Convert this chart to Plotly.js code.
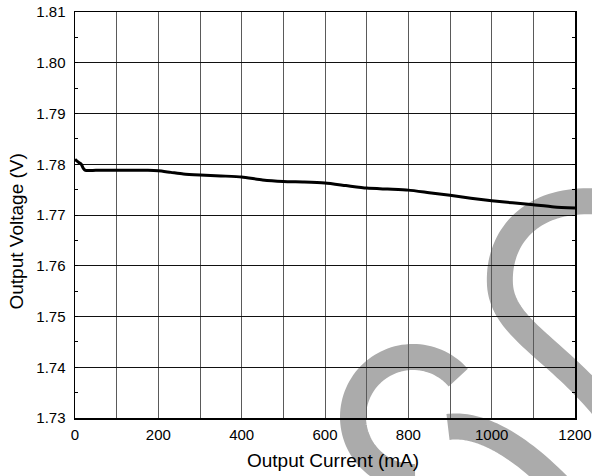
<!DOCTYPE html>
<html>
<head>
<meta charset="utf-8">
<script src="https://cdn.plot.ly/plotly-3.0.1.min.js"></script>
<style>
  html, body { margin: 0; padding: 0; background: #ffffff; }
  #chart { width: 592px; height: 476px; }
</style>
</head>
<body>
<div id="chart"></div>
<script>
// Load regulation: output voltage versus output current
const currentMA = [0, 5, 10, 15, 20, 25, 50, 100, 150, 175, 200, 230, 260, 300, 350, 400,
                   450, 500, 550, 600, 650, 700, 750, 800, 850, 900, 950, 1000, 1050, 1100, 1150, 1200];
const voltageV = [1.7810, 1.7806, 1.7803, 1.7800, 1.7792, 1.7788, 1.7788, 1.7788, 1.7788, 1.7788,
                  1.7787, 1.7784, 1.7781, 1.7779, 1.7777, 1.7775, 1.7769, 1.7766, 1.7765, 1.7763,
                  1.7758, 1.7753, 1.7751, 1.7749, 1.7744, 1.7739, 1.7733, 1.7728, 1.7724, 1.7720,
                  1.7716, 1.7714];
const xTickVals = [0, 200, 400, 600, 800, 1000, 1200];
const xTickText = ['0', '200', '400', '600', '800', '1000', '1200'];

const W = 592, H = 476;
const M = { l: 75, r: 17, t: 12, b: 58 };
const PW = W - M.l - M.r, PH = H - M.t - M.b;
const FONT = 'Liberation Sans, Arial, sans-serif';

// pixel -> paper helpers for the decorative grey strokes
const toPX = x => (x - M.l) / PW;
const toPY = y => (H - M.b - y) / PH;

function polyPath(pts) {
  return pts.map((p, i) => (i ? 'L' : 'M') + toPX(p[0]).toFixed(5) + ',' + toPY(p[1]).toFixed(5)).join(' ');
}
function arcPts(cx, cy, r, a0, a1, n) {
  const pts = [];
  for (let i = 0; i <= n; i++) {
    const a = (a0 + (a1 - a0) * i / n) * Math.PI / 180;
    pts.push([cx + r * Math.cos(a), cy + r * Math.sin(a)]);
  }
  return pts;
}
function bezPts(segs, n) {
  const pts = [];
  segs.forEach((s, k) => {
    for (let i = (k ? 1 : 0); i <= n; i++) {
      const t = i / n, u = 1 - t;
      const x = u*u*u*s[0][0] + 3*u*u*t*s[1][0] + 3*u*t*t*s[2][0] + t*t*t*s[3][0];
      const y = u*u*u*s[0][1] + 3*u*u*t*s[1][1] + 3*u*t*t*s[2][1] + t*t*t*s[3][1];
      pts.push([x, y]);
    }
  });
  return pts;
}

const strokeA = arcPts(413, 417, 60, -41, -272, 80);
const strokeB = bezPts([[[448, 427], [470, 424], [510, 432], [572, 500]]], 40);
const strokeC = bezPts([
  [[610, 203], [535, 192], [497, 235], [500, 285]],
  [[500, 285], [503, 330], [560, 350], [612, 418]]
], 40);

const greyStroke = p => ({
  type: 'path', xref: 'paper', yref: 'paper', layer: 'below',
  path: polyPath(p), line: { color: '#ababab', width: 26 }, fillcolor: 'rgba(0,0,0,0)'
});

const trace = {
  x: currentMA, y: voltageV, type: 'scatter', mode: 'lines',
  line: { color: '#000000', width: 3, shape: 'spline', smoothing: 0.6 },
  hoverinfo: 'skip'
};

const layout = {
  width: W, height: H,
  margin: M,
  paper_bgcolor: '#ffffff',
  plot_bgcolor: 'rgba(0,0,0,0)',
  showlegend: false,
  font: { family: FONT, size: 15, color: '#000000' },
  xaxis: {
    range: [0, 1200],
    tickmode: 'array', tickvals: xTickVals, ticktext: xTickText,
    ticks: '', ticklabelstandoff: 2,
    showgrid: true, gridcolor: '#5a5a5a', gridwidth: 1,
    minor: { dtick: 100, tick0: 0, showgrid: true, gridcolor: '#5a5a5a', gridwidth: 1, ticks: '' },
    showline: true, linecolor: '#000000', linewidth: 1.5, mirror: true,
    zeroline: false, tickfont: { family: FONT, size: 15, color: '#000000' }
  },
  yaxis: {
    range: [1.73, 1.81],
    dtick: 0.01, tick0: 1.73, tickformat: '.2f',
    ticks: 'inside', ticklen: 3, tickcolor: '#000000', ticklabelstandoff: 5,
    minor: { dtick: 0.005, tick0: 1.73, ticks: 'inside', ticklen: 3, tickcolor: '#000000', showgrid: false },
    showgrid: true, gridcolor: '#111111', gridwidth: 1,
    showline: true, linecolor: '#000000', linewidth: 1.5, mirror: 'ticks',
    zeroline: false, tickfont: { family: FONT, size: 15, color: '#000000' }
  },
  annotations: [
    { text: 'Output Current (mA)', xref: 'paper', yref: 'paper',
      x: toPX(333), y: toPY(460), xanchor: 'center', yanchor: 'middle',
      showarrow: false, font: { family: FONT, size: 19, color: '#000000' } },
    { text: 'Output Voltage (V)', xref: 'paper', yref: 'paper', textangle: -90,
      x: toPX(16), y: toPY(231.5), xanchor: 'center', yanchor: 'middle',
      showarrow: false, font: { family: FONT, size: 19, color: '#000000' } }
  ],
  shapes: [greyStroke(strokeA), greyStroke(strokeB), greyStroke(strokeC)]
};

Plotly.newPlot('chart', [trace], layout, { staticPlot: true, displayModeBar: false });
</script>
</body>
</html>
